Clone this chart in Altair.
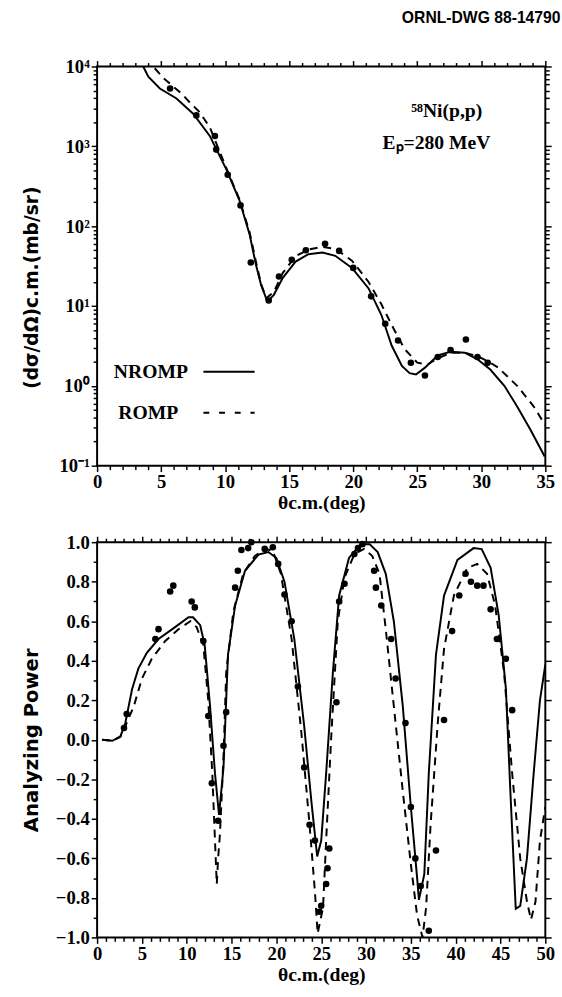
import altair as alt
import pandas as pd

# ---------------- top panel data: 58Ni(p,p) cross section ----------------
top_solid_x = [3.6, 4.0, 4.9, 6.2, 7.5, 8.8, 10.1, 11.1, 11.9, 12.4, 12.8, 13.3, 13.8, 14.5, 15.5, 16.5,
               17.6, 18.6, 19.9, 21.2, 22.2, 23.0, 23.8, 24.4, 24.9, 25.6, 26.6, 27.6, 28.7, 29.7,
               30.7, 31.8, 32.8, 33.85, 34.95]
top_solid_y = [10000, 7460, 5300, 3970, 2560, 1350, 510, 214, 80, 33, 18.5, 11.3, 13.8, 22.5, 36, 44.5,
               46.7, 42.5, 30, 16.6, 7.7, 3.2, 1.78, 1.44, 1.39, 1.69, 2.4, 2.68, 2.6, 2.15,
               1.6, 1.0, 0.55, 0.28, 0.13]

top_dash_x = [4.5, 5.2, 6.6, 7.2, 8.0, 8.8, 9.4, 10.1, 11.1, 11.9, 12.4, 12.8, 13.2, 13.8, 14.5, 15.5,
              16.5, 17.6, 18.6, 19.9, 21.2, 22.2, 23.0, 24.0, 25.0, 25.8, 26.6, 27.6, 28.7, 29.7,
              30.7, 31.3, 32.8, 34.1, 35.0]
top_dash_y = [9500, 7100, 4570, 3590, 2690, 1730, 1000, 530, 220, 85, 36, 19, 12.5, 15, 26, 42,
              51, 55, 52, 37, 20, 10.5, 5.8, 2.9, 1.95, 1.85, 2.2, 2.6, 2.6, 2.35,
              1.95, 1.7, 1.0, 0.55, 0.32]

top_pts_x = [5.7, 7.75, 9.2, 9.3, 10.2, 11.2, 12.0, 13.4, 14.2, 15.2, 16.3, 17.8, 18.9, 20.0,
             21.4, 22.5, 23.5, 24.5, 25.6, 26.6, 27.6, 28.8, 29.7, 30.5]
top_pts_y = [5300, 2440, 1350, 910, 440, 182, 35, 11.7, 23.4, 38, 50, 60, 49, 30,
             13.2, 6.0, 3.7, 1.95, 1.35, 2.3, 2.8, 3.8, 2.3, 1.95]

# legend (drawn inside the top panel)
legend_labels = ["NROMP", "ROMP"]
legend_text_x = [4.2, 4.0]
legend_y = [1.5, 0.46]
legend_line_x = [8.3, 12.3]

# annotations
note_labels = ["⁵⁸Ni(p,p)", "Eₚ=280 MeV"]
note_x = [27.3, 26.5]
note_y = [2800, 1100]

# ---------------- bottom panel data: analyzing power ----------------
bot_solid_x = [0.55, 1.7, 2.6, 3.15, 3.9, 4.6, 5.55, 6.85, 8.7, 10.2, 10.7, 11.5, 12.0, 12.6, 13.15,
               13.6, 14.1, 14.6, 15.4, 16.5, 18.0, 19.1, 20.0, 20.9, 22.0, 23.1, 23.9, 24.55, 25.0,
               25.55, 26.3, 27.0, 28.1, 29.4, 30.4, 31.3, 32.2, 33.1, 34.1, 35.0, 35.7, 35.9, 36.5,
               37.0, 37.8, 38.7, 40.2, 42.0, 42.9, 43.9, 44.8, 45.6, 46.1, 46.7, 47.2, 47.95, 48.7,
               49.4, 50.0]
bot_solid_y = [0.0, -0.005, 0.017, 0.085, 0.256, 0.36, 0.44, 0.51, 0.57, 0.62, 0.62, 0.58, 0.48, 0.17, -0.17,
               -0.38, -0.14, 0.43, 0.68, 0.855, 0.937, 0.95, 0.92, 0.80, 0.51, 0.07, -0.31, -0.59, -0.51,
               -0.17, 0.34, 0.73, 0.92, 0.99, 0.99, 0.95, 0.84, 0.60, 0.17, -0.34, -0.70, -0.81, -0.68,
               -0.17, 0.43, 0.73, 0.91, 0.97, 0.965, 0.87, 0.63, 0.26, -0.26, -0.855, -0.84, -0.60, -0.17,
               0.20, 0.38]

bot_dash_x = [0.55, 1.7, 2.6, 3.15, 4.1, 5.0, 6.1, 7.6, 9.1, 10.4, 11.1, 11.85, 12.4, 12.85, 13.15,
              13.35, 13.5, 13.7, 14.1, 14.4, 15.2, 16.3, 17.6, 18.7, 19.6, 20.5, 21.7, 22.8, 23.7,
              24.3, 24.6, 25.2, 25.55, 26.1, 26.85, 27.6, 28.7, 29.8, 30.7, 31.5, 32.2, 33.1, 34.1,
              35.0, 35.7, 36.3, 36.7, 37.2, 38.0, 38.7, 39.8, 41.3, 42.4, 43.5, 44.4, 45.4, 46.3,
              47.2, 47.96, 48.4, 48.9, 49.4, 50.0]
bot_dash_y = [0.0, -0.005, 0.015, 0.07, 0.17, 0.31, 0.41, 0.50, 0.56, 0.60, 0.57, 0.48, 0.20, -0.17, -0.51,
              -0.73, -0.60, -0.48, -0.085, 0.34, 0.65, 0.84, 0.93, 0.966, 0.957, 0.84, 0.51, 0.03, -0.43,
              -0.77, -0.98, -0.85, -0.51, 0.0, 0.60, 0.82, 0.94, 0.966, 0.93, 0.84, 0.56, 0.17, -0.26,
              -0.63, -0.89, -1.0, -0.85, -0.43, 0.085, 0.46, 0.73, 0.87, 0.89, 0.84, 0.68, 0.34, -0.17,
              -0.60, -0.82, -0.91, -0.82, -0.51, -0.34]

bot_pts_x = [3.0, 3.3, 6.5, 6.85, 8.15, 8.5, 10.55, 10.9, 11.85, 12.4, 12.8, 13.5, 14.1, 14.4, 15.4,
             15.7, 16.1, 16.85, 17.2, 18.7, 19.6, 20.2, 20.9, 21.7, 22.4, 23.1, 23.7, 24.3, 24.8,
             25.0, 25.55, 25.7, 25.9, 26.7, 27.0, 27.6, 28.7, 29.1, 29.6, 30.9, 31.1, 31.7, 32.8,
             33.3, 34.4, 35.0, 35.5, 36.1, 37.0, 37.8, 38.7, 39.6, 40.4, 41.1, 41.7, 42.4, 43.1,
             43.9, 44.6, 45.6, 46.3]
bot_pts_y = [0.06, 0.13, 0.51, 0.56, 0.75, 0.78, 0.70, 0.67, 0.50, 0.12, -0.22, -0.41, -0.03, 0.14, 0.77,
             0.855, 0.96, 0.97, 1.0, 0.966, 0.974, 0.89, 0.735, 0.60, 0.27, -0.14, -0.43, -0.51, -0.87,
             -0.84, -0.73, -0.65, -0.55, 0.19, 0.70, 0.79, 0.94, 0.97, 0.99, 0.855, 0.77, 0.68, 0.51,
             0.31, 0.085, -0.34, -0.60, -0.74, -0.966, -0.56, 0.10, 0.55, 0.73, 0.84, 0.80, 0.78, 0.78,
             0.66, 0.51, 0.41, 0.15]

# tick values
top_x_ticks = list(range(0, 36))
bot_x_ticks = list(range(0, 51))
top_y_ticks = [k * 10.0 ** e for e in range(-1, 4) for k in range(1, 10)] + [10000.0]
bot_y_ticks = [round(-1 + 0.1 * i, 1) for i in range(21)]

FONT = "Liberation Serif"
YFONT = "DejaVu Sans"
LBL = 19
TTL = 20

top_df_solid = pd.DataFrame({"x": top_solid_x, "y": top_solid_y})
top_df_dash = pd.DataFrame({"x": top_dash_x, "y": top_dash_y})
top_df_pts = pd.DataFrame({"x": top_pts_x, "y": top_pts_y})
leg_solid = pd.DataFrame({"x": legend_line_x, "y": [legend_y[0]] * 2})
leg_dash = pd.DataFrame({"x": legend_line_x, "y": [legend_y[1]] * 2})
leg_txt = pd.DataFrame({"x": legend_text_x, "y": legend_y, "t": legend_labels})
note_df = pd.DataFrame({"x": note_x, "y": note_y, "t": note_labels})

bot_df_solid = pd.DataFrame({"x": bot_solid_x, "y": bot_solid_y})
bot_df_dash = pd.DataFrame({"x": bot_dash_x, "y": bot_dash_y})
bot_df_pts = pd.DataFrame({"x": bot_pts_x, "y": bot_pts_y})

five = "datum.value % 5 === 0"
dec = "abs(log(datum.value)/LN10 - round(log(datum.value)/LN10)) < 0.001"
e = "round(log(datum.value)/LN10)"
sup = (f"{e} == 4 ? '10⁴' : {e} == 3 ? '10³' : {e} == 2 ? '10²' : "
       f"{e} == 1 ? '10¹' : {e} == 0 ? '10⁰' : '10⁻¹'")
fifth = "abs(datum.value*5 - round(datum.value*5)) < 0.001"

common = dict(grid=False, domain=False, tickColor="black", tickWidth=1.5, labelFlush=False,
              labelFont=FONT, labelFontSize=LBL, labelFontWeight="bold", labelColor="black",
              titleFontWeight="bold", titleColor="black")


def ts(test):
    return {"condition": {"test": test, "value": 6}, "value": 4}


def xaxis(ticks, title):
    return alt.Axis(values=ticks, labelExpr=f"{five} ? datum.label : ''", tickSize=ts(five),
                    labelPadding=1, title=title, titlePadding=2, titleFont=FONT, titleFontSize=TTL,
                    **common)


def xaxis_top(ticks):
    return alt.Axis(values=ticks, orient="top", labels=False, tickSize=ts(five), title=None, **common)


tx_axis = xaxis(top_x_ticks, "θc.m.(deg)")
tx_axis_top = xaxis_top(top_x_ticks)
ty_axis = alt.Axis(values=top_y_ticks, labelExpr=f"({dec}) ? ({sup}) : ''", tickSize=ts(dec),
                   labelPadding=2, title="(dσ/dΩ)c.m.(mb/sr)", titleX=-57, titleY=225,
                   titleFont=YFONT, titleFontSize=19, **common)
ty_axis_r = alt.Axis(values=top_y_ticks, orient="right", labels=False, tickSize=ts(dec), title=None,
                     **common)

tsx = alt.Scale(domain=[0, 35], nice=False, zero=False)
tsy = alt.Scale(type="log", domain=[0.1, 10000], nice=False)


def enc(xa, ya, xs, ys):
    return dict(x=alt.X("x:Q", scale=xs, axis=xa), y=alt.Y("y:Q", scale=ys, axis=ya))


top_main = alt.layer(
    alt.Chart(top_df_solid).mark_line(color="black", strokeWidth=2, clip=True).encode(
        **enc(tx_axis, ty_axis, tsx, tsy)),
    alt.Chart(top_df_dash).mark_line(color="black", strokeWidth=2, strokeDash=[8, 6], clip=True).encode(
        **enc(tx_axis, ty_axis, tsx, tsy)),
    alt.Chart(leg_solid).mark_line(color="black", strokeWidth=2).encode(**enc(tx_axis, ty_axis, tsx, tsy)),
    alt.Chart(leg_dash).mark_line(color="black", strokeWidth=2, strokeDash=[6, 10]).encode(
        **enc(tx_axis, ty_axis, tsx, tsy)),
    alt.Chart(leg_txt).mark_text(font=FONT, fontSize=20, fontWeight="bold", color="black",
                                 baseline="middle").encode(text="t:N", **enc(tx_axis, ty_axis, tsx, tsy)),
    alt.Chart(note_df).mark_text(font=FONT, fontSize=20, fontWeight="bold", color="black",
                                 baseline="middle").encode(text="t:N", **enc(tx_axis, ty_axis, tsx, tsy)),
)
top_mirror = alt.Chart(top_df_pts).mark_circle(color="black", size=45, opacity=1).encode(
    **enc(tx_axis_top, ty_axis_r, tsx, tsy))

top = alt.layer(top_main, top_mirror).resolve_axis(x="independent", y="independent").properties(
    width=457, height=407,
    title=alt.TitleParams("ORNL-DWG 88-14790", anchor="end", fontSize=16, fontWeight="bold",
                          font="Liberation Sans", color="black", offset=32, dx=6))

# bottom
bx_axis = xaxis(bot_x_ticks, "θc.m.(deg)")
bx_axis_top = xaxis_top(bot_x_ticks)
by_axis = alt.Axis(values=bot_y_ticks, format=".1f", labelExpr=f"({fifth}) ? datum.label : ''",
                   tickSize=ts(fifth), labelPadding=2, title="Analyzing Power", titleX=-57,
                   titleFont=YFONT, titleFontSize=20, **common)
by_axis_r = alt.Axis(values=bot_y_ticks, orient="right", labels=False, tickSize=ts(fifth), title=None,
                     **common)
bsx = alt.Scale(domain=[0, 50], nice=False, zero=False)
bsy = alt.Scale(domain=[-1, 1], nice=False, zero=False)

bot_main = alt.layer(
    alt.Chart(bot_df_solid).mark_line(color="black", strokeWidth=2, clip=True).encode(
        **enc(bx_axis, by_axis, bsx, bsy)),
    alt.Chart(bot_df_dash).mark_line(color="black", strokeWidth=2, strokeDash=[8, 6], clip=True).encode(
        **enc(bx_axis, by_axis, bsx, bsy)),
)
bot_mirror = alt.Chart(bot_df_pts).mark_circle(color="black", size=45, opacity=1).encode(
    **enc(bx_axis_top, by_axis_r, bsx, bsy))
bottom = alt.layer(bot_main, bot_mirror).resolve_axis(x="independent", y="independent").properties(
    width=457, height=403)

chart = alt.vconcat(top, bottom, spacing=19).properties(
    padding={"left": 21, "top": 0, "right": 0, "bottom": 5},
    background="white",
).configure_view(stroke="black", strokeWidth=2)

chart.save("out.html", embed_options={"renderer": "svg", "actions": False})
